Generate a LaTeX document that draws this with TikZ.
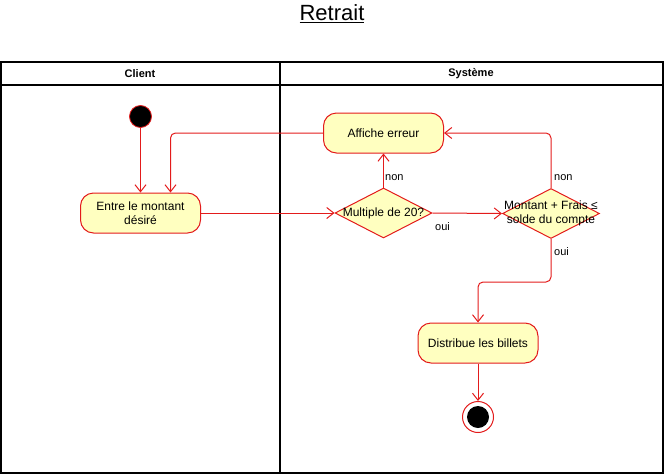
\documentclass[tikz,border=0pt]{standalone}
\usepackage{fontspec}
\setmainfont{Liberation Sans}
\usetikzlibrary{arrows.meta,shapes.geometric}
\definecolor{umlred}{HTML}{E31B1B}
\definecolor{umlfill}{HTML}{FFFFC0}
\tikzset{
  act/.style={draw=umlred, fill=umlfill, line width=1pt, rounded corners=13pt,
    minimum width=120pt, minimum height=40pt, inner sep=0pt, align=center,
    font=\fontsize{12}{14}\selectfont},
  dec/.style={draw=umlred, fill=umlfill, line width=1pt, diamond,
    minimum width=97pt, minimum height=50pt, inner sep=0pt},
  dectext/.style={align=center, font=\fontsize{12}{14}\selectfont, inner sep=0pt},
  flow/.style={draw=umlred, line width=1pt, rounded corners=5pt,
    -{Straight Barb[length=7pt,width=11pt]}},
  guard/.style={font=\fontsize{11}{13}\selectfont, inner sep=0pt, anchor=west},
  lane/.style={draw=black, line width=1.3pt},
  hdr/.style={font=\bfseries\fontsize{11}{13}\selectfont, inner sep=0pt}
}
\begin{document}
\begin{tikzpicture}[x=1pt,y=-1pt]
\useasboundingbox (0,0) rectangle (664,474);
% title
\node[font=\fontsize{22}{26}\selectfont, inner sep=0pt] (title) at (332,14) {\underline{Retrait}};
% pool
\draw[lane] (1,62) rectangle (663,473);
\draw[lane] (1,85) -- (663,85);
\draw[lane] (280,62) -- (280,473);
\node[hdr] (hclient) at (140,73.5) {Client};
\node[hdr] (hsys) at (471,73.5) {Système};
% nodes
\node[circle, fill=black, draw=umlred, line width=0.8pt, minimum size=22pt, inner sep=0pt] (start) at (140.5,116.5) {};
\node[act] (entre) at (140.5,213) {Entre le montant\\désiré};
\node[act] (erreur) at (383.5,133) {Affiche erreur};
\node[dec] (d1) at (383.5,213) {};
\node[dectext] (t1) at (d1) {Multiple de 20?};
\node[dec] (d2) at (551,213.5) {};
\node[dectext] (t2) at (d2) {Montant + Frais ≤\\solde du compte};
\node[act] (distrib) at (478,343) {Distribue les billets};
\node[circle, draw=umlred, fill=white, line width=1pt, minimum size=31pt, inner sep=0pt] (fin) at (478,417) {};
\node[circle, fill=black, minimum size=22pt, inner sep=0pt] (finin) at (fin) {};
\coordinate (back) at (170.5,133);
\coordinate (bend) at (551,282);
% edges
\draw[flow] (start) -- (entre);
\draw[flow] (erreur.west) -- (back) -- (back |- entre.north);
\draw[flow] (entre.east) -- (d1.west);
\draw[flow] (d1.north) -- (erreur.south);
\draw[flow] (d1.east) -- (d2.west);
\draw[flow] (d2.north) |- (erreur.east);
\draw[flow] (d2.south) -- (bend) -| (distrib.north);
\draw[flow] (distrib.south) -- (fin.north);
% guards
\node[guard] (g1) at (385,178) {non};
\node[guard] (g2) at (435,227) {oui};
\node[guard] (g3) at (554,178) {non};
\node[guard] (g4) at (554,252) {oui};
\end{tikzpicture}
\end{document}
